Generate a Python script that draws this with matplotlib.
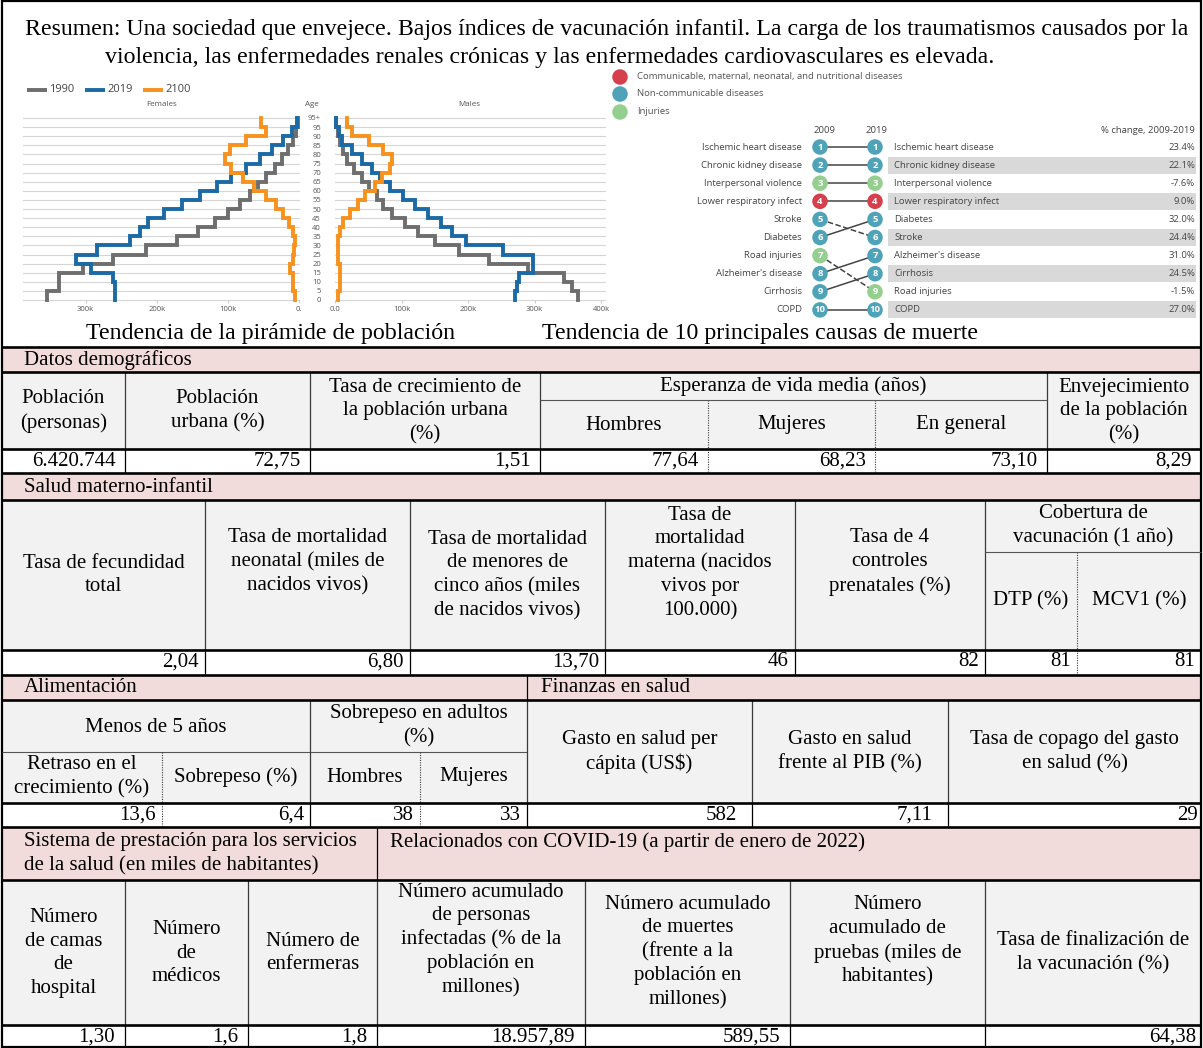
import matplotlib
matplotlib.use('Agg')
import matplotlib.pyplot as plt
from matplotlib.patches import Rectangle
import numpy as np

W, H = 1203, 1048
SERIF = 'Liberation Serif'
SANS = 'Open Sans'

# ---------------- data ----------------
summary_line1 = ("Resumen: Una sociedad que envejece. Bajos índices de vacunación infantil. "
                 "La carga de los traumatismos causados por la")
summary_line2 = ("violencia, las enfermedades renales crónicas y las enfermedades "
                 "cardiovasculares es elevada.")
caption_pyramid = "Tendencia de la pirámide de población"
caption_causes = "Tendencia de 10 principales causas de muerte"

age_labels = ['0', '5', '10', '15', '20', '25', '30', '35', '40', '45', '50',
              '55', '60', '65', '70', '75', '80', '85', '90', '95', '95+']
years = ['1990', '2019', '2100']
female_1990 = [354000, 338000, 338000, 304000, 261000, 215000, 172000, 142000, 118000, 100000,
               83000, 69000, 57000, 46000, 34000, 24000, 16000, 9000, 4000, 2000]
female_2019 = [258000, 259000, 261000, 293000, 313000, 284000, 238000, 224000, 212000, 190000,
               165000, 139000, 115000, 95000, 74000, 55000, 38000, 23000, 10000, 3000]
female_2100 = [6000, 8000, 9000, 12000, 9000, 7000, 6000, 8000, 14000, 22000,
               32000, 46000, 63000, 79000, 96000, 104000, 97000, 74000, 47000, 53000]
male_1990 = [366000, 357000, 345000, 290000, 231000, 186000, 151000, 125000, 105000, 86000,
             72000, 63000, 51000, 40000, 28000, 18000, 12000, 8000, 4000, 2000]
male_2019 = [271000, 273000, 276000, 298000, 298000, 252000, 197000, 176000, 160000, 140000,
             120000, 103000, 82000, 67000, 55000, 40000, 25000, 11000, 6000, 1000]
male_2100 = [5000, 7000, 8000, 7000, 5000, 4000, 5000, 7000, 12000, 22000,
             35000, 45000, 60000, 70000, 83000, 85000, 72000, 51000, 25000, 18000]
female_ticks = [300000, 200000, 100000, 0]
female_ticklabels = ['300k', '200k', '100k', '0.']
male_ticks = [0, 100000, 200000, 300000, 400000]
male_ticklabels = ['0.0', '100k', '200k', '300k', '400k']

cause_groups = ['Communicable, maternal, neonatal, and nutritional diseases',
                'Non-communicable diseases', 'Injuries']
causes_2009 = ['Ischemic heart disease', 'Chronic kidney disease', 'Interpersonal violence',
               'Lower respiratory infect', 'Stroke', 'Diabetes', 'Road injuries',
               "Alzheimer's disease", 'Cirrhosis', 'COPD']
causes_2019 = ['Ischemic heart disease', 'Chronic kidney disease', 'Interpersonal violence',
               'Lower respiratory infect', 'Diabetes', 'Stroke', "Alzheimer's disease",
               'Cirrhosis', 'Road injuries', 'COPD']
cause_group_of = {'Ischemic heart disease': 1, 'Chronic kidney disease': 1,
                  'Interpersonal violence': 2, 'Lower respiratory infect': 0,
                  'Stroke': 1, 'Diabetes': 1, 'Road injuries': 2,
                  "Alzheimer's disease": 1, 'Cirrhosis': 1, 'COPD': 1}
pct_change_2019 = [23.4, 22.1, -7.6, 9.0, 32.0, 24.4, 31.0, 24.5, -1.5, 27.0]

demo_title = 'Datos demográficos'
demo_headers = ['Población\n(personas)', 'Población\nurbana (%)',
                'Tasa de crecimiento de\nla población urbana\n(%)',
                'Hombres', 'Mujeres', 'En general',
                'Envejecimiento\nde la población\n(%)']
demo_group = 'Esperanza de vida media (años)'
demo_values = ['6.420.744', '72,75', '1,51', '77,64', '68,23', '73,10', '8,29']

mch_title = 'Salud materno-infantil'
mch_headers = ['Tasa de fecundidad\ntotal',
               'Tasa de mortalidad\nneonatal (miles de\nnacidos vivos)',
               'Tasa de mortalidad\nde menores de\ncinco años (miles\nde nacidos vivos)',
               'Tasa de\nmortalidad\nmaterna (nacidos\nvivos por\n100.000)',
               'Tasa de 4\ncontroles\nprenatales (%)',
               'DTP (%)', 'MCV1 (%)']
mch_group = 'Cobertura de\nvacunación (1 año)'
mch_values = ['2,04', '6,80', '13,70', '46', '82', '81', '81']

nut_title = 'Alimentación'
nut_group1 = 'Menos de 5 años'
nut_group2 = 'Sobrepeso en adultos\n(%)'
nut_headers = ['Retraso en el\ncrecimiento (%)', 'Sobrepeso (%)', 'Hombres', 'Mujeres']
nut_values = ['13,6', '6,4', '38', '33']
fin_title = 'Finanzas en salud'
fin_headers = ['Gasto en salud per\ncápita (US$)', 'Gasto en salud\nfrente al PIB (%)',
               'Tasa de copago del gasto\nen salud (%)']
fin_values = ['582', '7,11', '29']

sys_title = 'Sistema de prestación para los servicios\nde la salud (en miles de habitantes)'
sys_headers = ['Número\nde camas\nde\nhospital', 'Número\nde\nmédicos', 'Número de\nenfermeras']
sys_values = ['1,30', '1,6', '1,8']
cov_title = 'Relacionados con COVID-19 (a partir de enero de 2022)'
cov_headers = ['Número acumulado\nde personas\ninfectadas (% de la\npoblación en\nmillones)',
               'Número acumulado\nde muertes\n(frente a la\npoblación en\nmillones)',
               'Número\nacumulado de\npruebas (miles de\nhabitantes)',
               'Tasa de finalización de\nla vacunación (%)']
cov_values = ['18.957,89', '589,55', '', '64,38']

# ---------------- styles ----------------
PINK = '#f2dcdb'
GREY_BG = '#f2f2f2'
C_1990, C_2019, C_2100 = '#6e6e6e', '#1b6aa5', '#f7921e'
GROUP_COLORS = ['#d6404d', '#4fa3b8', '#94cf8f']
FS = 15
FS_BIG = 17.2
FS_SMALL = 6.8
LS = 1.34

fig = plt.figure(figsize=(W / 100, H / 100), dpi=100)
ax = fig.add_axes([0, 0, 1, 1])
ax.set_xlim(0, W)
ax.set_ylim(H, 0)
ax.axis('off')


def px_axes(x0, y0, x1, y1):
    return fig.add_axes([x0 / W, 1 - y1 / H, (x1 - x0) / W, (y1 - y0) / H])


def rect(x0, y0, x1, y1, color):
    ax.add_patch(Rectangle((x0, y0), x1 - x0, y1 - y0, facecolor=color, edgecolor='none', zorder=0))


def hline(y, x0, x1, lw=1.9, color='black', ls='-'):
    ax.plot([x0, x1], [y, y], color=color, lw=lw, ls=ls, solid_capstyle='butt', zorder=3)


def vline(x, y0, y1, lw=0.9, color='#3a3a3a', ls='-'):
    ax.plot([x, x], [y0, y1], color=color, lw=lw, ls=ls, solid_capstyle='butt', zorder=3)


def ctext(x, y, s, **kw):
    ax.text(x, y, s, ha='center', va='center', fontsize=FS, family=SERIF,
            linespacing=LS, zorder=4, **kw)


def rtext(x, y, s):
    ax.text(x, y, s, ha='right', va='center', fontsize=FS, family=SERIF, zorder=4)


def ltext(x, y, s, **kw):
    ax.text(x, y, s, ha='left', va='center', fontsize=FS, family=SERIF, linespacing=LS,
            zorder=4, **kw)


DOT = (0, (1, 1.2))

# ---------------- summary ----------------
ax.text(25, 30, summary_line1, ha='left', va='center', fontsize=FS_BIG, family=SERIF)
ax.text(105, 57, summary_line2, ha='left', va='center', fontsize=FS_BIG, family=SERIF)

# ---------------- population pyramid ----------------
def step_coords(vals):
    xs, ys = [], []
    for i, v in enumerate(vals):
        xs += [v, v]
        ys += [i, i + 1]
    return xs, ys

ax_f = px_axes(23, 118, 299, 300)
ax_m = px_axes(335, 118, 605, 300)
for a, series, xl, ticks, tl in [
        (ax_f, [female_1990, female_2019, female_2100], (388000, 0), female_ticks, female_ticklabels),
        (ax_m, [male_1990, male_2019, male_2100], (0, 406000), male_ticks, male_ticklabels)]:
    a.set_xlim(*xl)
    a.set_ylim(0, 20)
    for k in range(len(age_labels)):
        a.axhline(k, color='#d6d6d6', lw=0.8, zorder=1, clip_on=False)
    for vals, c in zip(series, [C_1990, C_2019, C_2100]):
        xs, ys = step_coords(vals)
        a.plot(xs, ys, color=c, lw=2.8, zorder=3, clip_on=False, solid_joinstyle='miter')
    a.set_xticks(ticks)
    a.set_xticklabels(tl, fontsize=5.5, family=SANS, color='#555555')
    a.tick_params(axis='x', length=2, color='#cccccc', pad=2)
    for s in a.spines.values():
        s.set_visible(False)
    a.patch.set_alpha(0)
ax_f.set_yticks([])
ax_m.set_yticks(range(len(age_labels)))
ax_m.set_yticklabels(age_labels, fontsize=5.5, family=SANS, color='#555555')
ax_m.tick_params(axis='y', length=0, pad=10)
for lab in ax_m.get_yticklabels():
    lab.set_horizontalalignment('right')

ax.text(162, 105, 'Females', ha='center', va='center', fontsize=5.8, family=SANS, color='#555555')
ax.text(469, 105, 'Males', ha='center', va='center', fontsize=5.8, family=SANS, color='#555555')
ax.text(312, 105, 'Age', ha='center', va='center', fontsize=5.8, family=SANS, color='#555555')
for (x0, yr, c) in zip([27, 85, 143], years, [C_1990, C_2019, C_2100]):
    ax.plot([x0, x0 + 20], [90, 90], color=c, lw=2.8, solid_capstyle='butt')
    ax.text(x0 + 22, 90, yr, ha='left', va='center', fontsize=8, family=SANS, color='#444444')

# ---------------- top 10 causes ----------------
for i, (g, yy) in enumerate(zip(cause_groups, [77, 94, 112])):
    ax.scatter([620], [yy], s=125, color=GROUP_COLORS[i], edgecolor='none', zorder=3)
    ax.text(637, yy, g, ha='left', va='center', fontsize=FS_SMALL, family=SANS, color='#555555')

RS = 18.1
ax_s = px_axes(600, 138, 1203, 320)
ax_s.set_xlim(600, 1203)
ax_s.set_ylim(1 + (320 - 147) / RS, 1 + (138 - 147) / RS)
ax_s.axis('off')
ranks = np.arange(1, 11)
XL, XR = 820, 875
ax_s.barh(ranks[1::2], 1196 - 888, left=888, height=0.94, color='#d9d9d9', zorder=1)
for r09, name in enumerate(causes_2009, start=1):
    r19 = causes_2019.index(name) + 1
    ax_s.plot([XL, XR], [r09, r19], color='#444444', lw=1.1,
              ls='--' if r19 > r09 else '-', zorder=2)
col09 = [GROUP_COLORS[cause_group_of[n]] for n in causes_2009]
col19 = [GROUP_COLORS[cause_group_of[n]] for n in causes_2019]
ax_s.scatter([XL] * 10, ranks, s=125, c=col09, edgecolor='none', zorder=3)
ax_s.scatter([XR] * 10, ranks, s=125, c=col19, edgecolor='none', zorder=3)
for r in ranks:
    for xx in (XL, XR):
        ax_s.text(xx, r, str(r), ha='center', va='center', fontsize=6.8, color='white',
                  family=SANS, weight='bold', zorder=4)
for r, name in zip(ranks, causes_2009):
    ax_s.text(802, r, name, ha='right', va='center', fontsize=FS_SMALL, family=SANS, color='#444444')
for r, name, p in zip(ranks, causes_2019, pct_change_2019):
    ax_s.text(894, r, name, ha='left', va='center', fontsize=FS_SMALL, family=SANS, color='#444444')
    ax_s.text(1195, r, f'{p:.1f}%', ha='right', va='center', fontsize=FS_SMALL, family=SANS,
              color='#444444')
yh = 1 + (130 - 147) / RS
ax_s.text(824, yh, '2009', ha='center', va='center', fontsize=FS_SMALL, family=SANS, color='#444444')
ax_s.text(876, yh, '2019', ha='center', va='center', fontsize=FS_SMALL, family=SANS, color='#444444')
ax_s.text(1195, yh, '% change, 2009-2019', ha='right', va='center', fontsize=FS_SMALL,
          family=SANS, color='#444444')

# captions
ax.text(271, 334, caption_pyramid, ha='center', va='center', fontsize=FS_BIG, family=SERIF)
ax.text(760, 334, caption_causes, ha='center', va='center', fontsize=FS_BIG, family=SERIF)

L, R = 2, 1201

# ---------------- section 1: demographics ----------------
rect(L, 347, R, 372, PINK)
rect(L, 372, R, 449, GREY_BG)
ltext(24, 360, demo_title)
c1 = [L, 125, 310, 540, 708, 875, 1047, R]
ctext((c1[0] + c1[1]) / 2, 411, demo_headers[0])
ctext((c1[1] + c1[2]) / 2, 411, demo_headers[1])
ctext((c1[2] + c1[3]) / 2, 411, demo_headers[2])
ctext((c1[3] + c1[6]) / 2, 386, demo_group)
ctext((c1[3] + c1[4]) / 2, 425, demo_headers[3])
ctext((c1[4] + c1[5]) / 2, 425, demo_headers[4])
ctext((c1[5] + c1[6]) / 2, 425, demo_headers[5])
ctext((c1[6] + c1[7]) / 2, 411, demo_headers[6])
for k, v in enumerate(demo_values):
    rtext(c1[k + 1] - 9, 461, v)
for x in (125, 310, 540, 1047):
    vline(x, 372, 449)
    vline(x, 449, 473, color='black')
for x in (708, 875):
    vline(x, 400, 449, ls=DOT, lw=0.8)
    vline(x, 449, 473, ls=DOT, lw=0.8)
hline(400, 540, 1047, lw=0.8, color='#555555')

# ---------------- section 2: maternal-child health ----------------
rect(L, 473, R, 500, PINK)
rect(L, 500, R, 650, GREY_BG)
ltext(24, 488, mch_title)
c2 = [L, 205, 410, 605, 795, 985, 1077, R]
ys2 = [575, 562, 575, 563, 562]
for k in range(5):
    ctext((c2[k] + c2[k + 1]) / 2, ys2[k], mch_headers[k])
ctext((c2[5] + c2[7]) / 2, 526, mch_group)
ctext((c2[5] + c2[6]) / 2, 601, mch_headers[5])
ctext((c2[6] + c2[7]) / 2, 601, mch_headers[6])
for k, v in enumerate(mch_values):
    rtext(c2[k + 1] - 6, 662, v)
for x in c2[1:6]:
    vline(x, 500, 650)
    vline(x, 650, 675, color='black')
vline(1077, 552, 675, ls=DOT, lw=0.8)
hline(552, 985, R, lw=0.8, color='#555555')

# ---------------- section 3: nutrition / finance ----------------
rect(L, 675, R, 700, PINK)
rect(L, 700, R, 803, GREY_BG)
ltext(24, 688, nut_title)
ltext(541, 688, fin_title)
ctext((L + 310) / 2, 727, nut_group1)
ctext((310 + 527) / 2, 726, nut_group2)
c3 = [L, 162, 310, 420, 527]
for k in range(4):
    ctext((c3[k] + c3[k + 1]) / 2, 777, nut_headers[k])
for k, v in enumerate(nut_values):
    rtext(c3[k + 1] - 6, 815, v)
c3f = [527, 752, 948, R]
for k in range(3):
    ctext((c3f[k] + c3f[k + 1]) / 2, 752, fin_headers[k])
    rtext(c3f[k + 1] - 15 if k < 2 else c3f[k + 1] - 3, 815, fin_values[k])
hline(752, L, 527, lw=0.8, color='#555555')
for x in (310, 527, 752, 948):
    vline(x, 700, 803)
    vline(x, 803, 827, color='black')
vline(527, 675, 700, color='black')
for x in (162, 420):
    vline(x, 752, 827, ls=DOT, lw=0.8)

# ---------------- section 4: health system / covid ----------------
rect(L, 827, R, 880, PINK)
rect(L, 880, R, 1025, GREY_BG)
ltext(24, 854, sys_title)
ltext(390, 842, cov_title)
c4 = [L, 125, 248, 377, 585, 790, 985, R]
ys4 = [953, 953, 953, 940, 952, 941, 953]
heads4 = sys_headers + cov_headers
vals4 = sys_values + cov_values
for k in range(7):
    ctext((c4[k] + c4[k + 1]) / 2, ys4[k], heads4[k])
    if vals4[k]:
        rtext(c4[k + 1] - 10 if k < 6 else c4[k + 1] - 5, 1037, vals4[k])
for x in c4[1:7]:
    vline(x, 880, 1025)
    vline(x, 1025, 1048, color='black')
vline(377, 827, 880, color='black')

# thick horizontal rules
for y in (347, 372, 449, 473, 500, 650, 675, 700, 803, 827, 880, 1025):
    hline(y, L, R)
# outer frame
ax.plot([L, L], [0, H], color='black', lw=1.6)
ax.plot([R, R], [0, H], color='black', lw=1.6)
hline(1, L, R, lw=1.6)
hline(1047, L, R, lw=1.6)

fig.savefig('out.png', dpi=100)
